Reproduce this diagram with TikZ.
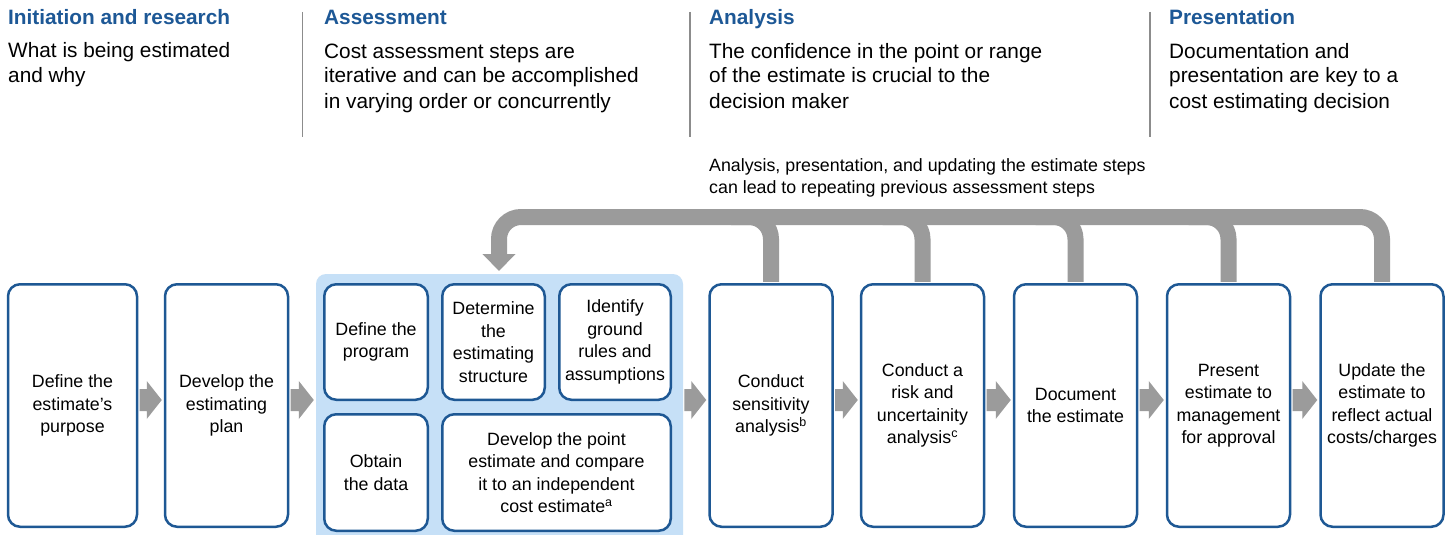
\documentclass[tikz,border=0pt]{standalone}
\usepackage{fontspec}
\setmainfont{Liberation Sans}
\usetikzlibrary{arrows.meta,calc}
\definecolor{hblue}{RGB}{29,88,150}
\definecolor{bblue}{RGB}{30,88,148}
\definecolor{lblue}{RGB}{198,224,247}
\definecolor{fgray}{RGB}{155,155,155}
\definecolor{sgray}{RGB}{140,140,140}
\newcommand\flowarrow[2]{%
  \fill[fgray] let \p1=(#1.east), \p2=(#2.west) in
    (\x1+1.25pt,-389pt) -- (\x2-17pt,-389pt) -- (\x2-17pt,-381pt) -- (\x2-2pt,-400pt)
    -- (\x2-17pt,-419pt) -- (\x2-17pt,-411pt) -- (\x1+1.25pt,-411pt) -- cycle;}
\begin{document}
\begin{tikzpicture}[x=1pt,y=-1pt,
  box/.style={draw=bblue, line width=2.5pt, fill=white, rounded corners=12pt, inner sep=0pt,
    align=center, font=\fontsize{17.8}{22.5}\selectfont},
  tall/.style={box, minimum width=123pt, minimum height=242.5pt},
  head/.style={anchor=base west, inner sep=0pt, text=hblue, font=\fontsize{20.8}{25}\selectfont\bfseries},
  sub/.style={anchor=base west, inner sep=0pt, align=left, font=\fontsize{20.8}{25}\selectfont},
  note/.style={anchor=base west, inner sep=0pt, align=left, font=\fontsize{17.8}{22}\selectfont},
  sep/.style={draw=sgray, line width=1.5pt},
  fb/.style={draw=fgray, line width=16pt, rounded corners=22pt},
]
\useasboundingbox (0,0) rectangle (1452,535);
\fill[white] (0,0) rectangle (1452,535);

% headers (base anchor of a multi-line node is its last line)
\node[head] (h1) at (8,25) {Initiation and research};
\node[head] (h2) at (324,25) {Assessment};
\node[head] (h3) at (709,25) {Analysis};
\node[head] (h4) at (1169,25) {Presentation};
\node[sub] (s1) at (8,83) {What is being estimated\\and why};
\node[sub] (s2) at (324,108) {Cost assessment steps are\\iterative and can be accomplished\\in varying order or concurrently};
\node[sub] (s3) at (709,108) {The confidence in the point or range\\of the estimate is crucial to the\\decision maker};
\node[sub] (s4) at (1169,108) {Documentation and\\presentation are key to a\\cost estimating decision};
\draw[sep] (302.5,12) -- (302.5,137);
\draw[sep] (690,12) -- (690,137);
\draw[sep] (1150,12) -- (1150,137);

\node[note] (n1) at (709,193) {Analysis, presentation, and updating the estimate steps\\can lead to repeating previous assessment steps};

% container
\begin{scope}
\clip (0,0) rectangle (1452,535);
\node[fill=lblue, rounded corners=10pt, minimum width=367pt, minimum height=271pt, inner sep=0pt] (cont) at (499.5,409.5) {};
\end{scope}

% main boxes
\node[tall, minimum width=129pt] (b1) at (72.5,405.5) {Define the\\estimate’s\\purpose};
\node[tall] (b2) at (226.5,405.5) {Develop the\\estimating\\plan};
\node[tall] (b3) at (771,405.5) {Conduct\\sensitivity\\analysis\textsuperscript{b}};
\node[tall] (b4) at (922.5,405.5) {Conduct a\\risk and\\uncertainity\\analysis\textsuperscript{c}};
\node[tall] (b5) at (1075.5,405.5) {Document\\the estimate};
\node[tall] (b6) at (1228.5,405.5) {Present\\estimate to\\management\\for approval};
\node[tall] (b7) at (1382,405.5) {Update the\\estimate to\\reflect actual\\costs/charges};

% inner boxes
\node[box, minimum width=103.5pt, minimum height=115.5pt] (ip) at (376,342) {Define the\\program};
\node[box, minimum width=102.5pt, minimum height=115.5pt] (ist) at (493.5,342) {Determine\\the\\estimating\\structure};
\node[box, minimum width=111.5pt, minimum height=115.5pt] (igr) at (615,342) {Identify\\ground\\rules and\\assumptions};
\node[box, minimum width=103.5pt, minimum height=116.5pt] (iod) at (376,472.5) {Obtain\\the data};
\node[box, minimum width=228.5pt, minimum height=116.5pt] (ipe) at (556.5,472.5) {Develop the point\\estimate and compare\\it to an independent\\cost estimate\textsuperscript{a}};

% flow arrows
\flowarrow{b1}{b2}
\flowarrow{b2}{cont}
\flowarrow{cont}{b3}
\flowarrow{b3}{b4}
\flowarrow{b4}{b5}
\flowarrow{b5}{b6}
\flowarrow{b6}{b7}

% feedback
\coordinate (top) at (0,217);
\coordinate (fbin) at (499,274);
\draw[fb, -{Triangle[length=17pt,width=32pt]}, shorten >=3pt, shorten <=1.25pt] (b7.north) -- (b7.north |- top) -| (fbin);
\foreach \b in {b3,b4,b5,b6}
  \draw[fb, shorten <=1.25pt] (\b.north) -- (\b.north |- top) -- ++(-40,0);
\end{tikzpicture}
\end{document}
